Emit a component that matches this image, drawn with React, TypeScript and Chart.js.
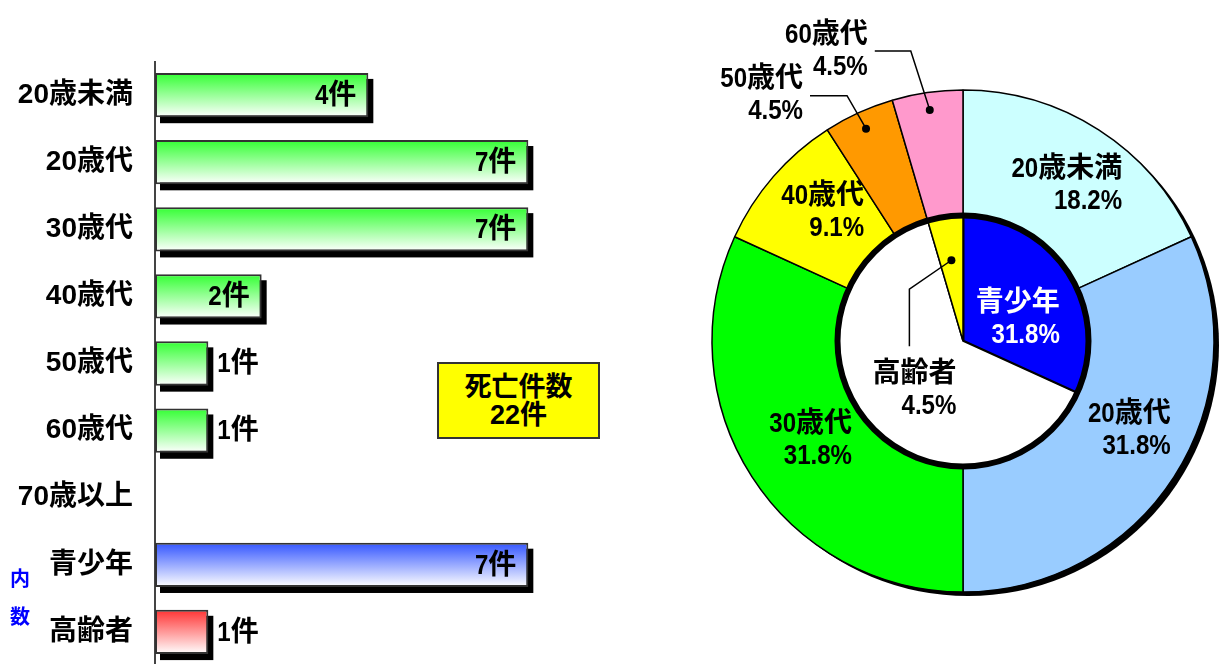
import React, { useEffect, useRef } from 'react';
import { Chart, registerables } from 'chart.js';

Chart.register(...registerables);

// ---------- data ----------
const ageLabels = ['20歳未満', '20歳代', '30歳代', '40歳代', '50歳代', '60歳代', '70歳以上'];
const ageCounts = [4, 7, 7, 2, 1, 1, 0];
const subLabels = ['青少年', '高齢者'];
const subCounts = [7, 1];
const unitText = '件';
const totalTitle = '死亡件数';
const subGroupTitle = ['内', '数'];

// ---------- styles ----------
const ageBarTop = '#33FF33';
const subBarTops = ['#3355FF', '#FF3333'];
const ageSliceColors = ['#CCFFFF', '#99CCFF', '#00FF00', '#FFFF00', '#FF9900', '#FF99CC', '#DDDDDD'];
const subSliceColors = ['#0000FF', '#FFFF00'];
const restColor = '#FFFFFF';
const FONT = "'Liberation Sans', 'Noto Sans CJK JP', sans-serif";
const FONT_SIZE = 28;
const LINE_H = 32;
const CONDENSE = 0.86;

const total = ageCounts.reduce((a, b) => a + b, 0);
const barLabels = [...ageLabels, ...subLabels];
const barValues = [...ageCounts, ...subCounts];
const barTops = [...ageLabels.map(() => ageBarTop), ...subBarTops];

const outerIdx = ageCounts.map((_, i) => i).filter((i) => ageCounts[i] > 0);
const outerLabels = outerIdx.map((i) => ageLabels[i]);
const outerValues = outerIdx.map((i) => ageCounts[i]);
const outerColors = outerIdx.map((i) => ageSliceColors[i]);
const innerLabels = [subLabels[0], '', subLabels[1]];
const innerValues = [subCounts[0], total - subCounts[0] - subCounts[1], subCounts[1]];
const innerColors = [subSliceColors[0], restColor, subSliceColors[1]];
const innerTextColors = ['#FFFFFF', '#000000', '#000000'];

type Callout = { r: number; path: [number, number][]; place: 'left' | 'below' };
const callouts: Record<string, Callout> = {
  '50歳代': { r: 0.93, path: [[-19, -33], [-37, 0]], place: 'left' },
  '60歳代': { r: 0.93, path: [[-19, -59], [-36, 0]], place: 'left' },
  '高齢者': { r: 0.65, path: [[-42, 29], [0, 57]], place: 'below' },
};
// small label nudges (pixels) relative to the slice centroid
const labelNudge: Record<string, [number, number]> = {
  '20歳未満': [2, 3],
  '20歳代': [8, -12],
  '30歳代': [6, -2],
  '40歳代': [2, -5],
  '青少年': [2, 12],
};

const pct = (v: number) => ((v / total) * 100).toFixed(1) + '%';

const isAscii = (s: string) => /^[\x00-\x7F]/.test(s);
function splitRuns(text: string) {
  return text.match(/[\x00-\x7F]+|[^\x00-\x7F]+/g) || [];
}
function measureMixed(ctx: CanvasRenderingContext2D, text: string) {
  return splitRuns(text).reduce((s, r) => s + ctx.measureText(r).width * (isAscii(r) ? CONDENSE : 1), 0);
}
function drawMixed(ctx: CanvasRenderingContext2D, text: string, x: number, y: number, align: 'left' | 'right' | 'center') {
  const runs = splitRuns(text);
  const widths = runs.map((r) => ctx.measureText(r).width * (isAscii(r) ? CONDENSE : 1));
  const w = widths.reduce((a, b) => a + b, 0);
  let start = align === 'left' ? x : align === 'right' ? x - w : x - w / 2;
  ctx.textAlign = 'left';
  runs.forEach((r, k) => {
    ctx.save();
    ctx.translate(start, y);
    ctx.scale(isAscii(r) ? CONDENSE : 1, 1);
    ctx.fillText(r, 0, 0);
    ctx.restore();
    start += widths[k];
  });
}

function drawBlockRight(ctx: CanvasRenderingContext2D, lines: string[], right: number, cy: number, color: string) {
  ctx.font = `bold ${FONT_SIZE}px ${FONT}`;
  ctx.fillStyle = color;
  ctx.textBaseline = 'middle';
  lines.forEach((l, k) => drawMixed(ctx, l, right, cy + (k - (lines.length - 1) / 2) * LINE_H, 'right'));
}

function drawBlockCenter(ctx: CanvasRenderingContext2D, lines: string[], cx: number, cy: number, color: string) {
  ctx.font = `bold ${FONT_SIZE}px ${FONT}`;
  const w = Math.max(...lines.map((l) => measureMixed(ctx, l)));
  drawBlockRight(ctx, lines, cx + w / 2, cy, color);
}

const barShadowPlugin = {
  id: 'barShadow',
  beforeDatasetsDraw(chart: any) {
    const ctx = chart.ctx;
    const meta = chart.getDatasetMeta(0);
    ctx.save();
    ctx.fillStyle = '#000000';
    meta.data.forEach((bar: any, i: number) => {
      if (!barValues[i]) return;
      const { x, y, base, height } = bar.getProps(['x', 'y', 'base', 'height'], true);
      ctx.fillRect(base + 5, y - height / 2 + 6, x - base, height);
    });
    ctx.restore();
  },
  afterDatasetsDraw(chart: any) {
    const ctx = chart.ctx;
    const meta = chart.getDatasetMeta(0);
    ctx.save();
    ctx.font = `bold ${FONT_SIZE}px ${FONT}`;
    ctx.fillStyle = '#000000';
    ctx.textBaseline = 'middle';
    meta.data.forEach((bar: any, i: number) => {
      const v = barValues[i];
      if (!v) return;
      const { x, y } = bar.getProps(['x', 'y'], true);
      const text = `${v}${unitText}`;
      if (v >= 2) drawMixed(ctx, text, x - 12, y + 1, 'right');
      else drawMixed(ctx, text, x + 9, y + 1, 'left');
    });
    // 内数 marker
    ctx.font = `bold 20px ${FONT}`;
    ctx.fillStyle = '#0000FF';
    ctx.textAlign = 'center';
    const ys = chart.scales.y;
    const yA = ys.getPixelForValue(ageLabels.length);
    const yB = ys.getPixelForValue(ageLabels.length + 1);
    ctx.fillText(subGroupTitle[0], 20, yA + 16);
    ctx.fillText(subGroupTitle[1], 20, yB - 13);
    ctx.restore();
  },
};

const piePlugin = {
  id: 'pieDecor',
  beforeDatasetsDraw(chart: any) {
    const ctx = chart.ctx;
    const a = chart.getDatasetMeta(0).data[0];
    if (!a) return;
    const { x, y, outerRadius } = a.getProps(['x', 'y', 'outerRadius'], true);
    ctx.save();
    ctx.fillStyle = '#000000';
    ctx.beginPath();
    ctx.arc(x + 5, y + 4, outerRadius, 0, Math.PI * 2);
    ctx.fill();
    ctx.restore();
  },
  afterDatasetsDraw(chart: any) {
    const ctx = chart.ctx;
    const inner = chart.getDatasetMeta(1).data;
    const a0 = inner[0];
    const { x: cx0, y: cy0, outerRadius: ir } = a0.getProps(['x', 'y', 'outerRadius'], true);
    ctx.save();
    ctx.strokeStyle = '#000000';
    ctx.lineWidth = 6;
    ctx.beginPath();
    ctx.arc(cx0, cy0, ir, 0, Math.PI * 2);
    ctx.stroke();

    const drawSet = (metaIdx: number, labels: string[], values: number[], colors: string[]) => {
      chart.getDatasetMeta(metaIdx).data.forEach((arc: any, i: number) => {
        const name = labels[i];
        if (!name) return;
        const p = arc.getProps(['x', 'y', 'startAngle', 'endAngle', 'innerRadius', 'outerRadius'], true);
        const mid = (p.startAngle + p.endAngle) / 2;
        const lines = [name, pct(values[i])];
        const co = callouts[name];
        if (co) {
          const R = p.outerRadius * co.r;
          let px = p.x + Math.cos(mid) * R;
          let py = p.y + Math.sin(mid) * R;
          ctx.fillStyle = '#000000';
          ctx.beginPath();
          ctx.arc(px, py, 4, 0, Math.PI * 2);
          ctx.fill();
          ctx.strokeStyle = '#000000';
          ctx.lineWidth = 1.5;
          ctx.beginPath();
          ctx.moveTo(px, py);
          co.path.forEach(([dx, dy]) => {
            px += dx;
            py += dy;
            ctx.lineTo(px, py);
          });
          ctx.stroke();
          if (co.place === 'left') drawBlockRight(ctx, lines, px - 7, py, colors[i]);
          else drawBlockCenter(ctx, lines, px + 5, py + 44, colors[i]);
        } else {
          const hr = (p.innerRadius + p.outerRadius) / 2;
          const [nx, ny] = labelNudge[name] || [0, 0];
          drawBlockCenter(ctx, lines, p.x + Math.cos(mid) * hr + nx, p.y + Math.sin(mid) * hr + ny, colors[i]);
        }
      });
    };
    drawSet(0, outerLabels, outerValues, outerLabels.map(() => '#000000'));
    drawSet(1, innerLabels, innerValues, innerTextColors);
    ctx.restore();
  },
};

export default function App() {
  const barRef = useRef<HTMLCanvasElement>(null);
  const pieRef = useRef<HTMLCanvasElement>(null);

  useEffect(() => {
    const barChart = new Chart(barRef.current as HTMLCanvasElement, {
      type: 'bar',
      data: {
        labels: barLabels,
        datasets: [
          {
            data: barValues,
            backgroundColor: (c: any) => {
              const chart = c.chart;
              const top = barTops[c.dataIndex] || ageBarTop;
              const ys = chart.scales && chart.scales.y;
              if (!ys || !chart.chartArea) return top;
              const cy = ys.getPixelForValue(c.dataIndex);
              const g = chart.ctx.createLinearGradient(0, cy - 22, 0, cy + 22);
              g.addColorStop(0, top);
              g.addColorStop(1, '#FFFFFF');
              return g;
            },
            borderColor: '#333333',
            borderWidth: (c: any) => (barValues[c.dataIndex] ? 2 : 0),
            borderSkipped: false,
            barPercentage: 0.66,
            categoryPercentage: 1,
          },
        ],
      },
      options: {
        indexAxis: 'y',
        responsive: false,
        animation: false,
        layout: { padding: { top: 61.5, bottom: 2.5, left: 0, right: 0 } },
        plugins: { legend: { display: false }, tooltip: { enabled: false } },
        scales: {
          x: { display: false, min: 0, max: 9 },
          y: {
            afterFit: (s: any) => {
              s.width = 155;
              s.paddingTop = 0;
              s.paddingBottom = 0;
            },
            grid: { display: false, drawTicks: false },
            border: { display: true, color: '#444444', width: 2 },
            ticks: {
              autoSkip: false,
              padding: 22,
              color: '#000000',
              font: { family: FONT, size: FONT_SIZE, weight: 'bold' },
            },
          },
        },
      },
      plugins: [barShadowPlugin],
    } as any);

    const pieChart = new Chart(pieRef.current as HTMLCanvasElement, {
      type: 'doughnut',
      data: {
        labels: outerLabels,
        datasets: [
          { data: outerValues, backgroundColor: outerColors, borderColor: '#000000', borderWidth: 1.5 },
          { data: innerValues, backgroundColor: innerColors, borderColor: '#000000', borderWidth: [3, 1.5, 1.5] },
        ],
      },
      options: {
        responsive: false,
        animation: false,
        radius: 251,
        cutout: 0,
        layout: { padding: { left: 63, top: 18, right: 0, bottom: 0 } },
        plugins: { legend: { display: false }, tooltip: { enabled: false } },
      },
      plugins: [piePlugin],
    } as any);

    return () => {
      barChart.destroy();
      pieChart.destroy();
    };
  }, []);

  return (
    <div
      style={{
        position: 'fixed',
        left: 0,
        top: 0,
        width: 1223,
        height: 664,
        overflow: 'hidden',
        background: '#FFFFFF',
      }}
    >
      <canvas ref={barRef} width={635} height={668} style={{ position: 'absolute', left: 0, top: 0 }} />
      <canvas ref={pieRef} width={583} height={664} style={{ position: 'absolute', left: 640, top: 0 }} />
      <div
        style={{
          position: 'absolute',
          left: 437,
          top: 362,
          width: 163,
          height: 77,
          boxSizing: 'border-box',
          background: '#FFFF00',
          border: '2px solid #333333',
          font: `bold 27px ${FONT}`,
          lineHeight: '28px',
          textAlign: 'center',
          display: 'flex',
          flexDirection: 'column',
          justifyContent: 'center',
          color: '#000000',
        }}
      >
        <div>{totalTitle}</div>
        <div>
          {total}
          {unitText}
        </div>
      </div>
    </div>
  );
}
